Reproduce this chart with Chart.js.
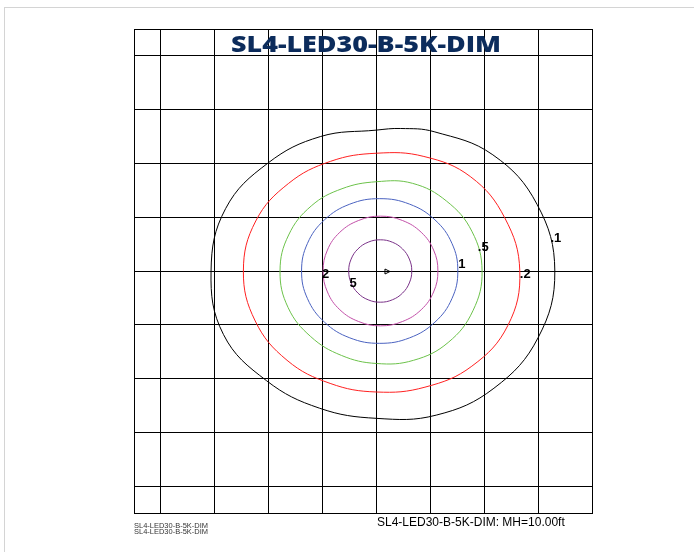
<!DOCTYPE html>
<html>
<head>
<meta charset="utf-8">
<script src="https://cdn.jsdelivr.net/npm/chart.js@4/dist/chart.umd.min.js"></script>
<style>
  html, body { margin:0; padding:0; background:#fff; }
  #wrap { position:relative; width:694px; height:552px; overflow:hidden; }
  #frame { position:absolute; left:4px; top:7px; right:-10px; bottom:-10px; border-top:1px solid #d4d4d4; border-left:1px solid #d4d4d4; }
  canvas { position:absolute; left:0; top:0; }
</style>
</head>
<body>
<div id="wrap"><div id="frame"></div><canvas id="c" width="694" height="552"></canvas></div>
<script>
// ---- Data (grid units; 1 grid cell, luminaire at 0,0) ----
const chartTitle = "SL4-LED30-B-5K-DIM";
const footerText = "SL4-LED30-B-5K-DIM: MH=10.00ft";
const smallNotes = ["SL4-LED30-B-5K-DIM", "SL4-LED30-B-5K-DIM"];
const xGridTicks = [-4.5, -4, -3, -2, -1, 0, 1, 2, 3, 4];
const yGridTicks = [-4.5, -4, -3, -2, -1, 0, 1, 2, 3, 4, 4.5];
const contourLevels = [".1", ".2", ".5", "1", "2", "5"];
const contourColors = ["#000000", "#ff2020", "#6cc24a", "#4a62c0", "#c24fa8", "#7a3288"];

const contour01 = [[3.31,0],[2.98,1.24],[2.16,2.16],[1.07,2.59],[0.45,2.65],[0,2.62],[-1.04,2.50],[-2.01,2.01],[-2.80,1.16],[-3.07,0],[-2.84,-1.18],[-2.04,-2.04],[-1.06,-2.55],[0,-2.74],[1.11,-2.68],[2.18,-2.18],[3.00,-1.24]];
const contour02 = [[2.66,0],[2.38,0.99],[1.75,1.75],[0.88,2.13],[0,2.19],[-0.85,2.04],[-1.63,1.63],[-2.24,0.93],[-2.47,0],[-2.25,-0.93],[-1.66,-1.66],[-0.86,-2.09],[0,-2.25],[0.90,-2.16],[1.77,-1.77],[2.44,-1.01]];
const contour05 = [[1.96,0],[1.77,0.74],[1.30,1.30],[0.67,1.63],[0,1.66],[-0.64,1.53],[-1.21,1.21],[-1.63,0.67],[-1.79,0],[-1.64,-0.68],[-1.22,-1.22],[-0.65,-1.57],[0,-1.72],[0.69,-1.66],[1.33,-1.33],[1.79,-0.74]];
const contour1  = [[1.51,0],[1.40,0.515],[1.085,0.951],[0.615,1.243],[0.06,1.345],[-0.495,1.243],[-0.965,0.951],[-1.28,0.515],[-1.39,0],[-1.28,-0.515],[-0.965,-0.951],[-0.495,-1.243],[0.06,-1.345],[0.615,-1.243],[1.085,-0.951],[1.40,-0.515]];
const contour2  = [[1.14,0],[1.06,0.39],[0.83,0.72],[0.48,0.94],[0.075,1.02],[-0.33,0.94],[-0.68,0.72],[-0.91,0.39],[-0.99,0],[-0.91,-0.39],[-0.68,-0.72],[-0.33,-0.94],[0.075,-1.02],[0.48,-0.94],[0.83,-0.72],[1.06,-0.39]];
const contour5  = [[0.655,0],[0.61,0.222],[0.484,0.41],[0.294,0.536],[0.07,0.58],[-0.154,0.536],[-0.344,0.41],[-0.47,0.222],[-0.515,0],[-0.47,-0.222],[-0.344,-0.41],[-0.154,-0.536],[0.07,-0.58],[0.294,-0.536],[0.484,-0.41],[0.61,-0.222]];
const contours = [contour01, contour02, contour05, contour1, contour2, contour5];

// label anchor points (left/baseline) in grid units
const labelText = [".1", ".2", "1", ".5", "2", "5"];
const labelX    = [3.23, 2.66, 1.52, 1.88, -1.01, -0.50];
const labelY    = [0.54, -0.125, 0.056, 0.37, -0.125, -0.29];

const datasets = contours.map((c, i) => ({
  label: contourLevels[i],
  data: c.map(p => ({x:p[0], y:p[1]})),
  showLine: true,
  borderColor: contourColors[i],
  borderWidth: 1,
  pointRadius: 0,
  tension: 0.4,
  fill: false
}));

// close each contour as a smooth loop (same mechanism the radar chart uses)
const closeLoops = {
  id: 'closeLoops',
  afterDatasetsUpdate(chart) {
    chart.data.datasets.forEach((d, i) => {
      const line = chart.getDatasetMeta(i).dataset;
      if (!line) return;
      line._loop = true;
      line._fullLoop = true;
      line._segments = undefined;
      line._pointsUpdated = false;
    });
  }
};

const overlay = {
  id: 'overlay',
  afterDraw(chart) {
    const ctx = chart.ctx;
    const xs = chart.scales.x, ys = chart.scales.y;
    ctx.save();
    ctx.fillStyle = '#000';
    ctx.font = 'bold 13px "Liberation Sans", Arial, sans-serif';
    ctx.textAlign = 'left';
    ctx.textBaseline = 'alphabetic';
    labelText.forEach((t, i) => {
      ctx.fillText(t, xs.getPixelForValue(labelX[i]), ys.getPixelForValue(labelY[i]));
    });
    const cx = xs.getPixelForValue(0), cy = ys.getPixelForValue(0);
    ctx.strokeStyle = '#000';
    ctx.lineWidth = 1;
    ctx.beginPath();
    ctx.moveTo(cx + 1, cy + 0.5); ctx.lineTo(cx + 8, cy + 0.5);
    ctx.stroke();
    ctx.beginPath();
    ctx.moveTo(cx + 8.5, cy - 2); ctx.lineTo(cx + 13.5, cy + 0.5); ctx.lineTo(cx + 8.5, cy + 3); ctx.closePath();
    ctx.stroke();
    ctx.fillStyle = '#0c2c5c';
    ctx.font = '800 23px "Open Sans", sans-serif';
    ctx.textAlign = 'center';
    const w = ctx.measureText(chartTitle).width;
    ctx.save();
    ctx.translate(366, 52);
    ctx.scale(270 / w, 1);
    ctx.fillText(chartTitle, 0, 0);
    ctx.restore();
    ctx.fillStyle = '#000';
    ctx.textAlign = 'left';
    ctx.font = '12px "Liberation Sans", Arial, sans-serif';
    ctx.fillText(footerText, 377, 526);
    ctx.fillStyle = '#333';
    ctx.font = '6.5px "Liberation Sans", Arial, sans-serif';
    smallNotes.forEach((t, i) => {
      const tw = ctx.measureText(t).width;
      ctx.save();
      ctx.translate(134, 528 + i * 6);
      ctx.scale(74 / tw, 1);
      ctx.fillText(t, 0, 0);
      ctx.restore();
    });
    ctx.restore();
  }
};

new Chart(document.getElementById('c'), {
  type: 'scatter',
  data: { datasets },
  options: {
    responsive: false,
    animation: false,
    events: [],
    layout: { padding: { left: 134, right: 102, top: 29, bottom: 39 } },
    plugins: { legend: { display: false }, tooltip: { enabled: false }, title: { display: false } },
    scales: {
      x: {
        type: 'linear', min: -4.5, max: 4,
        afterBuildTicks: s => { s.ticks = xGridTicks.map(v => ({value: v})); },
        ticks: { display: false },
        grid: { color: '#000', lineWidth: 1, drawTicks: false },
        border: { color: '#000', width: 1 }
      },
      y: {
        type: 'linear', min: -4.5, max: 4.5,
        afterBuildTicks: s => { s.ticks = yGridTicks.map(v => ({value: v})); },
        ticks: { display: false },
        grid: { color: '#000', lineWidth: 1, drawTicks: false },
        border: { color: '#000', width: 1 }
      }
    }
  },
  plugins: [closeLoops, overlay]
});
</script>
</body>
</html>
